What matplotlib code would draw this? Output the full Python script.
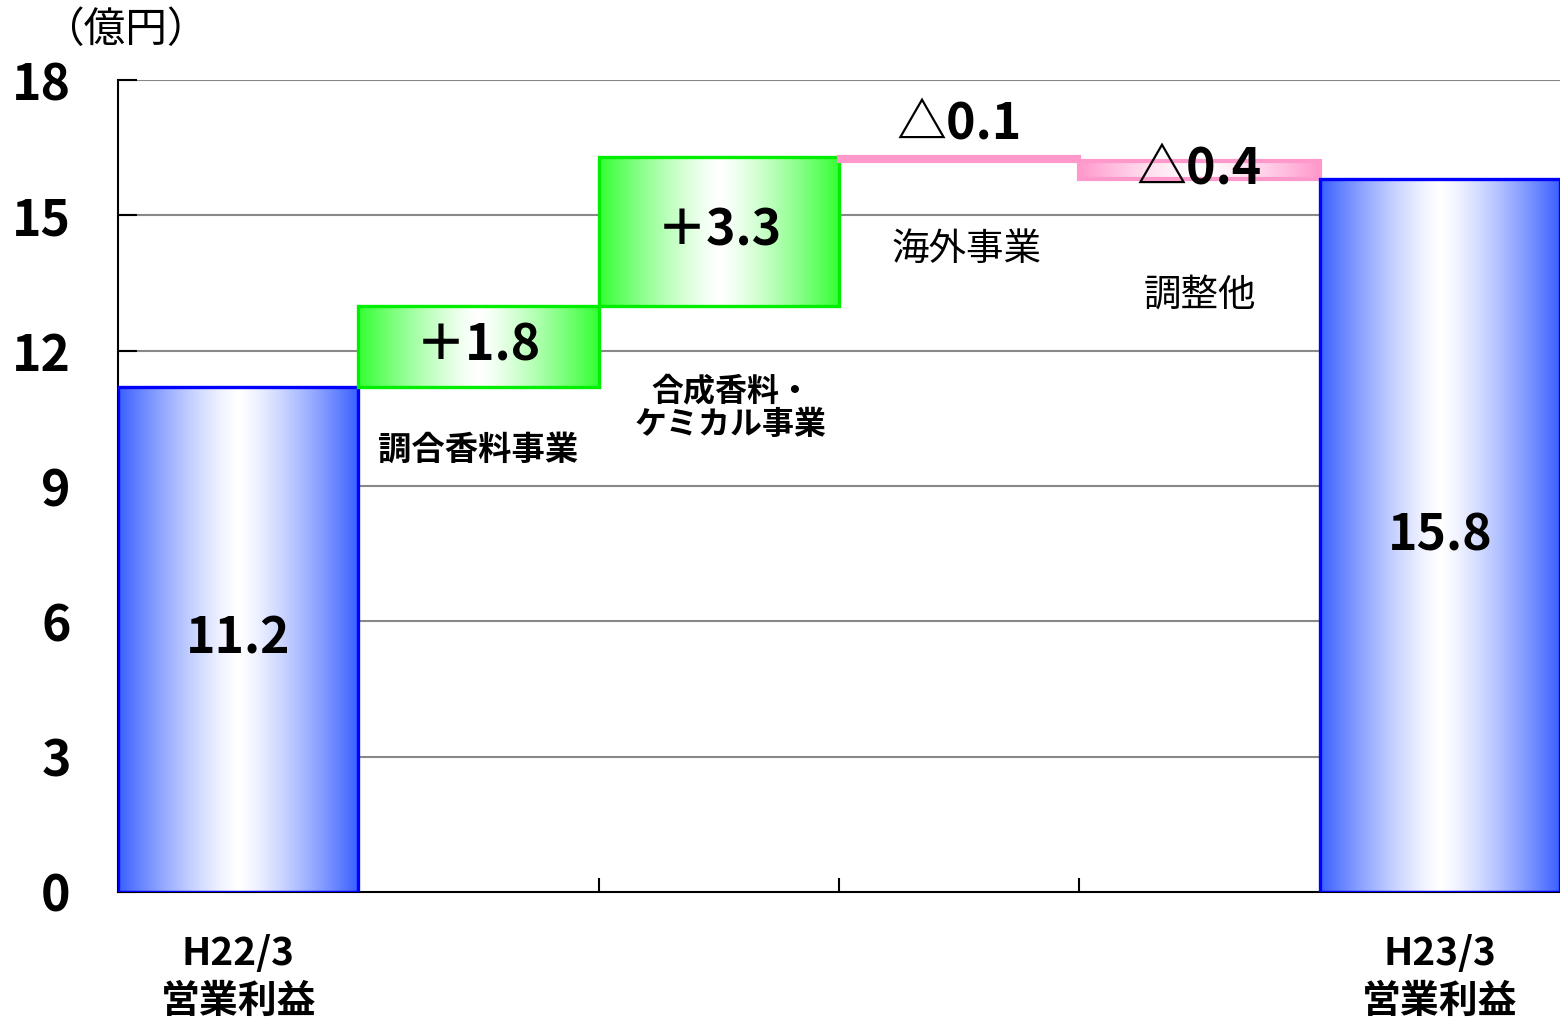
import matplotlib
matplotlib.use('Agg')
import matplotlib.pyplot as plt
import numpy as np
from matplotlib.colors import LinearSegmentedColormap
from matplotlib.patches import Rectangle

plt.rcParams['font.family'] = ['Noto Sans CJK JP', 'DejaVu Sans']

# データ
labels = ['H22/3\n営業利益', '調合香料事業', '合成香料・\nケミカル事業', '海外事業', '調整他', 'H23/3\n営業利益']
start_value = 11.2
deltas = [1.8, 3.3, -0.1, -0.4]
end_value = 15.8
delta_texts = ['＋1.8', '＋3.3', '△0.1', '△0.4']
yticks = [0, 3, 6, 9, 12, 15, 18]

# 各バーの下端・高さ
bottoms = [0]
heights = [start_value]
cum = start_value
for d in deltas:
    if d >= 0:
        bottoms.append(cum)
        heights.append(d)
    else:
        bottoms.append(cum + d)
        heights.append(-d)
    cum += d
bottoms.append(0)
heights.append(end_value)

blue = '#3a60ff'
green = '#33ff33'
pink = '#ff99cc'
face = [blue, green, green, pink, pink, blue]
edge = ['#0000ff', '#00ee00', '#00ee00', pink, pink, '#0000ff']

fig = plt.figure(figsize=(15.6, 10.27), dpi=100)
ax = fig.add_axes([118 / 1560, 1 - 892 / 1027, 1 - 118 / 1560, (892 - 80) / 1027])

# グラデーション (端が色、中央が白)
g = np.abs(np.linspace(-1, 1, 256)) ** 1.3
grad = g.reshape(1, -1)
for i in range(6):
    cmap = LinearSegmentedColormap.from_list('c%d' % i, ['white', face[i]])
    lw = 2.4 if i not in (3, 4) else 3.0
    rect = Rectangle((i, bottoms[i]), 1, heights[i], facecolor='none',
                     edgecolor=edge[i], linewidth=lw, zorder=3)
    ax.add_patch(rect)
    im = ax.imshow(grad, extent=[i, i + 1, bottoms[i], bottoms[i] + heights[i]],
                   aspect='auto', cmap=cmap, vmin=0, vmax=1, zorder=2,
                   interpolation='bilinear')
    im.set_clip_path(rect)

ax.set_xlim(0, 6)
ax.set_ylim(0, 18)

# 目盛と罫線
ax.set_yticks(yticks)
ax.set_yticklabels([str(v) for v in yticks], fontsize=36, fontweight='bold')
ax.tick_params(axis='y', direction='in', length=14, width=1.5, pad=34)
for v in yticks[1:]:
    ax.axhline(v, color='#888888', linewidth=1.5, zorder=1)
ax.set_xticks([0.5, 5.5])
ax.set_xticklabels([labels[0], labels[5]], fontsize=28, fontweight='bold', linespacing=1.3)
ax.tick_params(axis='x', which='major', length=0, pad=30)
ax.set_xticks([2, 3, 4], minor=True)
ax.tick_params(axis='x', which='minor', direction='in', length=10, width=1.5)
for s in ['top', 'right']:
    ax.spines[s].set_visible(False)
ax.spines['left'].set_linewidth(1.5)
ax.spines['bottom'].set_linewidth(1.5)

# 値ラベル
ax.text(0.5, heights[0] / 2, '%.1f' % start_value, ha='center', va='center',
        fontsize=36, fontweight='bold', zorder=5)
ax.text(5.5, heights[5] / 2, '%.1f' % end_value, ha='center', va='center',
        fontsize=36, fontweight='bold', zorder=5)
for k in range(4):
    i = k + 1
    y = bottoms[i] + heights[i] / 2
    if k == 2:
        y = bottoms[i] + heights[i] + 0.7
    ax.text(i + 0.5, y, delta_texts[k], ha='center', va='center', fontsize=36,
            fontweight='bold', zorder=5)

# 区分ラベル
ax.text(1.5, 9.8, labels[1], ha='center', va='center', fontsize=24, fontweight='bold', zorder=5)
ax.text(2.55, 10.73, labels[2], ha='center', va='center', fontsize=23, fontweight='bold',
        linespacing=1.05, zorder=5)
ax.text(3.53, 14.25, labels[3], ha='center', va='center', fontsize=27, zorder=5)
ax.text(4.5, 13.22, labels[4], ha='center', va='center', fontsize=27, zorder=5)

fig.text(125 / 1560, 1 - 30 / 1027, '（億円）', ha='center', va='center', fontsize=30)

fig.savefig('out.png', dpi=100)
